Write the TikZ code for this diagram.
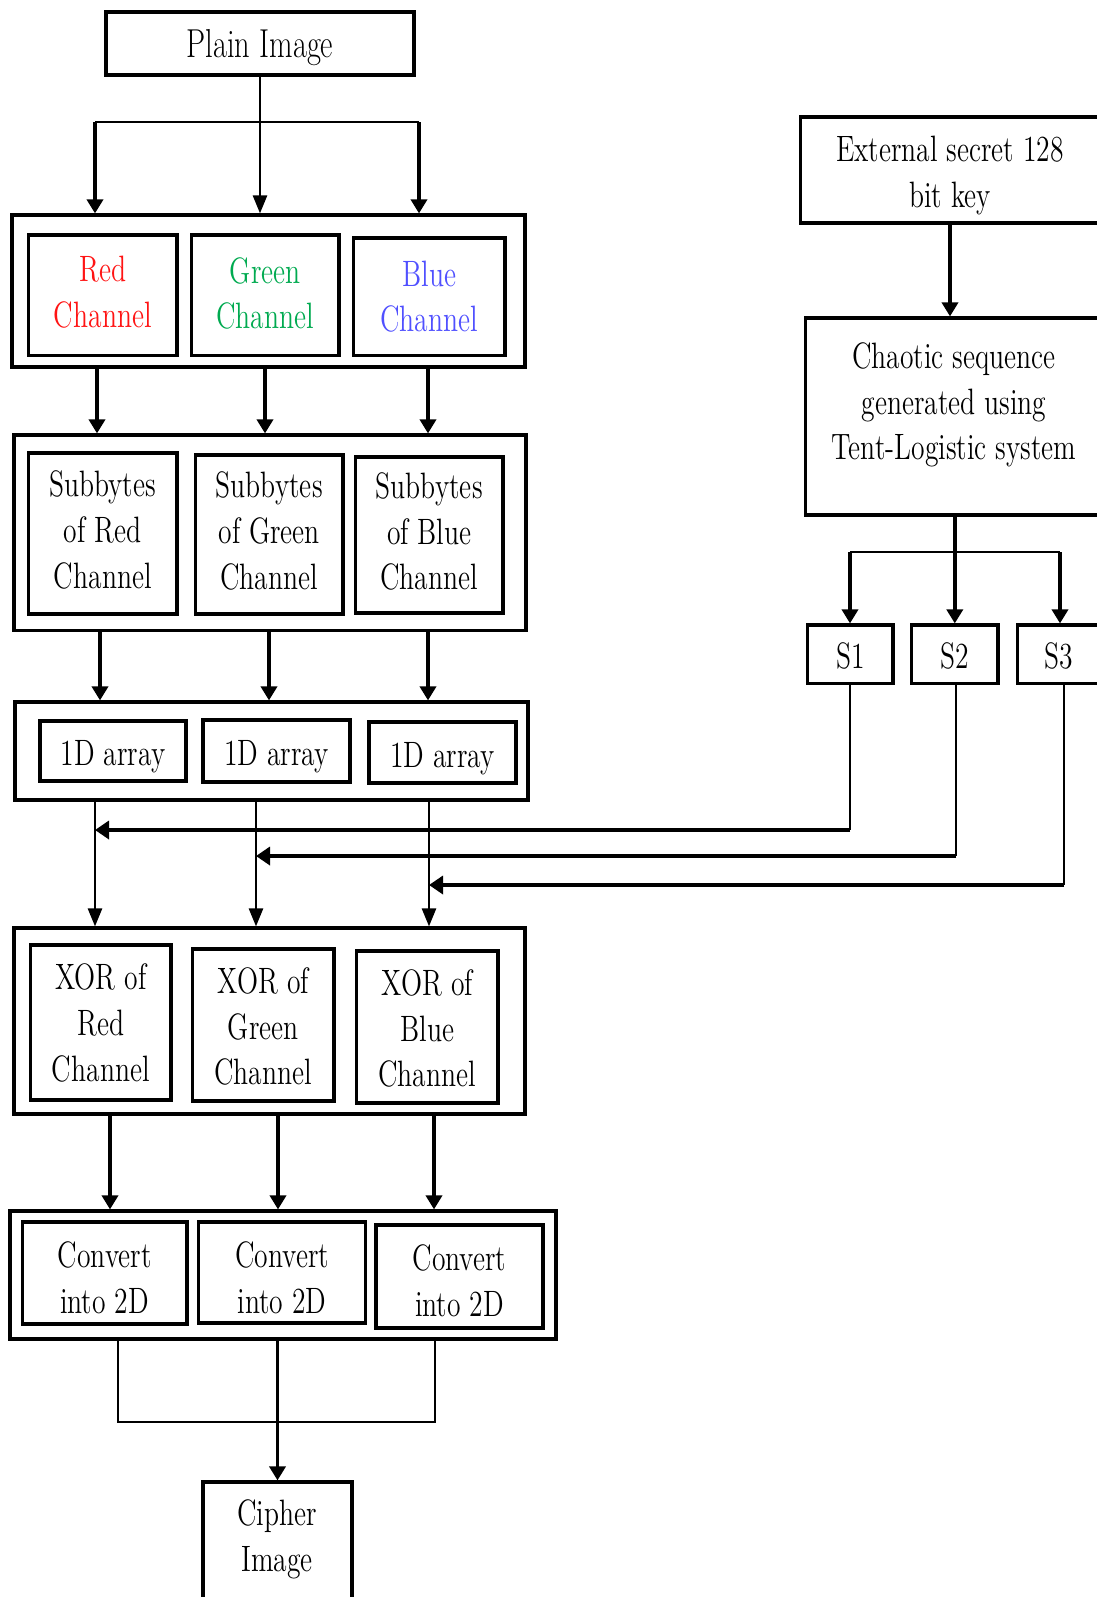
\documentclass[tikz,border=0pt]{standalone}
\usepackage{graphicx}
\usetikzlibrary{arrows.meta}
\definecolor{redT}{RGB}{255,20,20}
\definecolor{greenT}{RGB}{0,170,80}
\definecolor{blueT}{RGB}{80,80,255}
\newcommand{\tx}[1]{\scalebox{1}[1.33]{\begin{tabular}{@{}c@{}}#1\end{tabular}}}
% name, cx, cy, w, h, text shift (down), text
\newcommand{\bx}[7]{\node[box,minimum width=#4*0.5pt,minimum height=#5*0.5pt] (#1) at (#2,#3) {};
  \node[lbl] (#1t) at (#2,#3+#6) {\tx{#7}};}
\newcommand{\ob}[5]{\node[box,minimum width=#4*0.5pt,minimum height=#5*0.5pt] (#1) at (#2,#3) {};}
\begin{document}
\begin{tikzpicture}[x=0.5pt,y=-0.5pt,
  box/.style={draw,line width=1.6pt,inner sep=0pt},
  lbl/.style={inner sep=0pt,font=\fontsize{13.8}{17.2}\selectfont},
  arr/.style={line width=1.8pt,-{Triangle[length=7pt,width=8pt]}},
  marr/.style={line width=1.3pt,-{Triangle[length=9pt,width=7pt]}},
  harr/.style={line width=2.2pt,-{Triangle[length=7pt,width=9pt]}},
  thinln/.style={line width=0.6pt}]
\useasboundingbox (0,0) rectangle (1097,1597);
\clip (0,0) rectangle (1097,1597);
\fill[white] (0,0) rectangle (1097,1597);

% left column
\node[box,minimum width=308*0.5pt,minimum height=63*0.5pt] (plain) at (260,43.5) {};
\node[lbl,font=\fontsize{15.2}{18}\selectfont] (plaint) at (260,48) {\tx{Plain Image}};

\ob{o1}{268.5}{291}{513}{152}
\bx{red}{102.75}{295.25}{148.5}{120.5}{0}{\textcolor{redT}{Red}\\\textcolor{redT}{Channel}}
\bx{green}{265.25}{295.25}{147.5}{120.5}{1.5}{\textcolor{greenT}{Green}\\\textcolor{greenT}{Channel}}
\bx{blue}{429.25}{296.75}{151.5}{117.5}{3}{\textcolor{blueT}{Blue}\\\textcolor{blueT}{Channel}}

\ob{o2}{270}{532.75}{512}{195.5}
\bx{sr}{102.75}{533.5}{148.5}{161}{0}{Subbytes\\of Red\\Channel}
\bx{sg}{269.25}{534.5}{147.5}{159}{0}{Subbytes\\of Green\\Channel}
\bx{sb}{429.25}{535}{147.5}{156}{0}{Subbytes\\of Blue\\Channel}

\ob{o3}{271.5}{751}{513}{98}
\bx{a1}{113}{751}{146}{60}{5}{1D array}
\bx{a2}{276.5}{751}{147}{62}{5}{1D array}
\bx{a3}{442.5}{752.5}{147}{61}{6}{1D array}

\ob{o4}{269.5}{1021}{511}{186}
\bx{xr}{100.75}{1022.5}{140.5}{155}{4}{XOR of\\Red\\Channel}
\bx{xg}{263.25}{1025}{141.5}{152}{5}{XOR of\\Green\\Channel}
\bx{xb}{427.25}{1027}{141.5}{152}{5}{XOR of\\Blue\\Channel}

\ob{o5}{283}{1275}{546}{128}
\bx{c1}{104.7}{1273}{164.6}{102}{8}{Convert\\into 2D}
\bx{c2}{282.15}{1272.5}{167}{101}{9}{Convert\\into 2D}
\bx{c3}{459.5}{1276.5}{167}{103}{8}{Convert\\into 2D}

\ob{cipher}{277.5}{1566}{149}{168}
\node[lbl] (ciphert) at (277,1539) {\tx{Cipher\\Image}};

% right column
\ob{ext}{960.3}{170}{319.4}{106}
\node[lbl] (extt) at (950,175) {\tx{External secret 128\\bit key}};
\ob{chaos}{962.85}{416.5}{314.3}{197}
\node[lbl] (chaost) at (954,405) {\tx{Chaotic sequence\\generated using\\Tent-Logistic system}};
\bx{S1}{850.35}{654.25}{85.3}{58.5}{5}{S1}
\bx{S2}{954.8}{654.25}{86.4}{58.5}{5}{S2}
\ob{S3}{1060.8}{654.25}{86.4}{58.5}
\node[lbl] (S3t) at (1059,659) {\tx{S3}};

% plain image split
\coordinate (sl) at (95,122);
\coordinate (sr) at (419,122);
\draw[thinln] (sl) -- (sr);
\draw[marr] (plain.south) -- (plain.south |- o1.north);
\draw[arr] (sl) -- (sl |- o1.north);
\draw[arr] (sr) -- (sr |- o1.north);

% vertical arrows between stages
\foreach \xx [count=\i] in {97,265,428} {
  \coordinate (k\i) at (\xx,0);
  \draw[arr] (o1.south -| k\i) -- (o2.north -| k\i);}
\foreach \xx [count=\i] in {100,269,428} {
  \coordinate (l\i) at (\xx,0);
  \draw[arr] (o2.south -| l\i) -- (o3.north -| l\i);}
\foreach \xx [count=\i] in {95,256,429} {
  \coordinate (m\i) at (\xx,0);
  \draw[marr] (o3.south -| m\i) -- (o4.north -| m\i);}
\foreach \xx [count=\i] in {110,278,434} {
  \coordinate (n\i) at (\xx,0);
  \draw[arr] (o4.south -| n\i) -- (o5.north -| n\i);}

% merge into cipher image
\coordinate (b1) at (118,1422);
\coordinate (b2) at (435,1422);
\draw[thinln] (o5.south -| b1) -- (b1) -- (b2) -- (o5.south -| b2);
\draw[arr] (o5.south -| cipher) -- (cipher.north);

% key chain
\coordinate (e1) at (950,0);
\draw[arr] (ext.south -| e1) -- (chaos.north -| e1);
\draw[arr] (chaos.south -| S2) -- (S2.north);
\coordinate (q1) at (850,552);
\coordinate (q3) at (1060,552);
\draw[thinln] (q1) -- (q3);
\draw[arr] (q1) -- (q1 |- S1.north);
\draw[arr] (q3) -- (q3 |- S3.north);

% S lines into the arrays
\coordinate (h1) at (850,830);
\coordinate (h2) at (956,856);
\coordinate (h3) at (1064,885);
\draw[thinln] (S1.south -| h1) -- (h1);
\draw[harr] (h1) -- (m1 |- h1);
\draw[thinln] (S2.south -| h2) -- (h2);
\draw[harr] (h2) -- (m2 |- h2);
\draw[thinln] (S3.south -| h3) -- (h3);
\draw[harr,line width=1.7pt] (h3) -- (m3 |- h3);
\end{tikzpicture}
\end{document}
